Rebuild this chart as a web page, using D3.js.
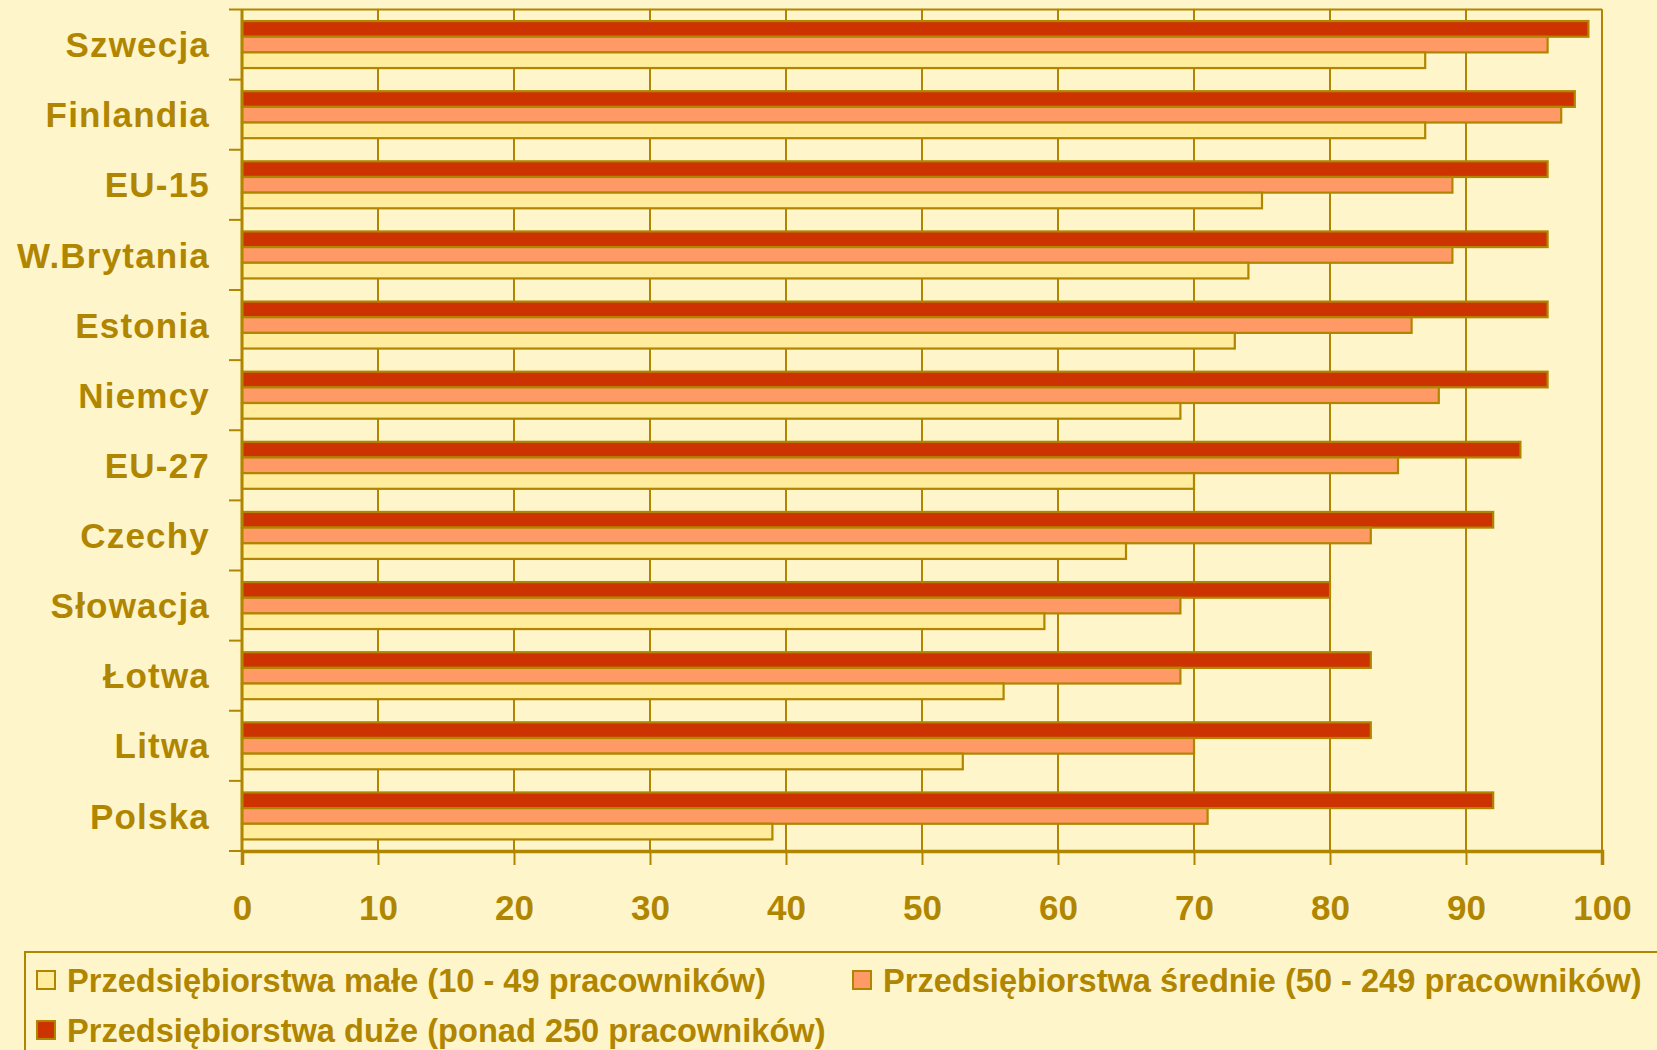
<!DOCTYPE html>
<html>
<head>
<meta charset="utf-8">
<script src="https://cdn.jsdelivr.net/npm/d3@7"></script>
<style>
  html, body { margin: 0; padding: 0; background: #FFF5CA; }
  svg { display: block; }
</style>
</head>
<body>
<svg id="chart" width="1657" height="1050"></svg>
<script>
// Categories, top to bottom
const countries = ["Szwecja", "Finlandia", "EU-15", "W.Brytania", "Estonia", "Niemcy",
                   "EU-27", "Czechy", "Słowacja", "Łotwa", "Litwa", "Polska"];

// Share of enterprises (%) by size class
const large  = [99, 98, 96, 96, 96, 96, 94, 92, 80, 83, 83, 92];
const medium = [96, 97, 89, 89, 86, 88, 85, 83, 69, 69, 70, 71];
const small  = [87, 87, 75, 74, 73, 69, 70, 65, 59, 56, 53, 39];

const seriesNames = [
  "Przedsiębiorstwa małe (10 - 49 pracowników)",
  "Przedsiębiorstwa średnie (50 - 249 pracowników)",
  "Przedsiębiorstwa duże (ponad 250 pracowników)"
];
const xTicks = [0, 10, 20, 30, 40, 50, 60, 70, 80, 90, 100];

const gold = "#B08500";
const colors = { small: "#FFEC9C", medium: "#FF9966", large: "#CC3300" };

const series = [
  { key: "large",  values: large },
  { key: "medium", values: medium },
  { key: "small",  values: small }
];

const svg = d3.select("#chart");
const font = "'Liberation Sans', Arial, sans-serif";

const plot = { left: 242, right: 1602, top: 9.5, bottom: 851 };

const x = d3.scaleLinear().domain([0, 100]).range([plot.left, plot.right]);
const y0 = d3.scaleBand().domain(countries).range([plot.top, plot.bottom])
  .paddingInner(0.33).paddingOuter(0.165);
const y1 = d3.scaleBand().domain(series.map(s => s.key)).range([0, y0.bandwidth()]);

// Vertical gridlines
svg.append("g")
  .selectAll("line")
  .data(xTicks.slice(1))
  .join("line")
  .attr("x1", d => x(d)).attr("x2", d => x(d))
  .attr("y1", plot.top).attr("y2", plot.bottom)
  .attr("stroke", gold).attr("stroke-width", 2);

// Top border of plot area
svg.append("line")
  .attr("x1", plot.left).attr("x2", plot.right)
  .attr("y1", plot.top).attr("y2", plot.top)
  .attr("stroke", gold).attr("stroke-width", 2);

// Bars
const groups = svg.append("g")
  .selectAll("g")
  .data(countries)
  .join("g")
  .attr("transform", d => `translate(0,${y0(d)})`);

groups.selectAll("rect")
  .data((c, i) => series.map(s => ({ key: s.key, value: s.values[i] })))
  .join("rect")
  .attr("x", x(0))
  .attr("y", d => y1(d.key))
  .attr("width", d => x(d.value) - x(0))
  .attr("height", y1.bandwidth())
  .attr("fill", d => colors[d.key])
  .attr("stroke", gold)
  .attr("stroke-width", 2.2);

// Category axis (left) with ticks at band boundaries
const step = y0.step();
const boundaries = d3.range(countries.length + 1).map(i => plot.top + i * step);
svg.append("g")
  .selectAll("line")
  .data(boundaries)
  .join("line")
  .attr("x1", plot.left - 13).attr("x2", plot.left)
  .attr("y1", d => d).attr("y2", d => d)
  .attr("stroke", gold).attr("stroke-width", 2);
svg.append("line")
  .attr("x1", plot.left).attr("x2", plot.left)
  .attr("y1", plot.top).attr("y2", plot.bottom)
  .attr("stroke", gold).attr("stroke-width", 3);

svg.append("g")
  .selectAll("text")
  .data(countries)
  .join("text")
  .attr("x", 210)
  .attr("y", d => y0(d) + y0.bandwidth() / 2)
  .attr("dy", "0.36em")
  .attr("text-anchor", "end")
  .attr("fill", gold)
  .attr("font-family", font)
  .attr("font-weight", "bold")
  .attr("font-size", 35)
  .attr("letter-spacing", 1.2)
  .text(d => d);

// Value axis (bottom)
const xAxis = d3.axisBottom(x).tickValues(xTicks).tickSize(14).tickPadding(30)
  .tickFormat(d3.format("d"));
const gx = svg.append("g")
  .attr("transform", `translate(0,${plot.bottom})`)
  .call(xAxis);
gx.select(".domain").attr("stroke", gold).attr("stroke-width", 3.5);
gx.selectAll(".tick line").attr("stroke", gold).attr("stroke-width", 2);
gx.selectAll(".tick text")
  .attr("fill", gold)
  .attr("font-family", font)
  .attr("font-weight", "bold")
  .attr("font-size", 35);

// Right border of plot area
svg.append("line")
  .attr("x1", plot.right).attr("x2", plot.right)
  .attr("y1", plot.top).attr("y2", plot.bottom)
  .attr("stroke", gold).attr("stroke-width", 2);

// Legend
const legend = svg.append("g");
legend.append("rect")
  .attr("x", 25).attr("y", 952).attr("width", 1700).attr("height", 200)
  .attr("fill", "none").attr("stroke", gold).attr("stroke-width", 2);

const legendItems = [
  { name: seriesNames[0], color: colors.small,  x: 37,  y: 980 },
  { name: seriesNames[1], color: colors.medium, x: 853, y: 980 },
  { name: seriesNames[2], color: colors.large,  x: 37,  y: 1030 }
];
const li = legend.selectAll("g.item")
  .data(legendItems)
  .join("g")
  .attr("class", "item")
  .attr("transform", d => `translate(${d.x},${d.y})`);
li.append("rect")
  .attr("x", 0).attr("y", -9).attr("width", 18).attr("height", 18)
  .attr("fill", d => d.color).attr("stroke", gold).attr("stroke-width", 2);
li.append("text")
  .attr("x", 30)
  .attr("dy", "0.36em")
  .attr("fill", gold)
  .attr("font-family", font)
  .attr("font-weight", "bold")
  .attr("font-size", 32.6)
  .text(d => d.name);
</script>
</body>
</html>
